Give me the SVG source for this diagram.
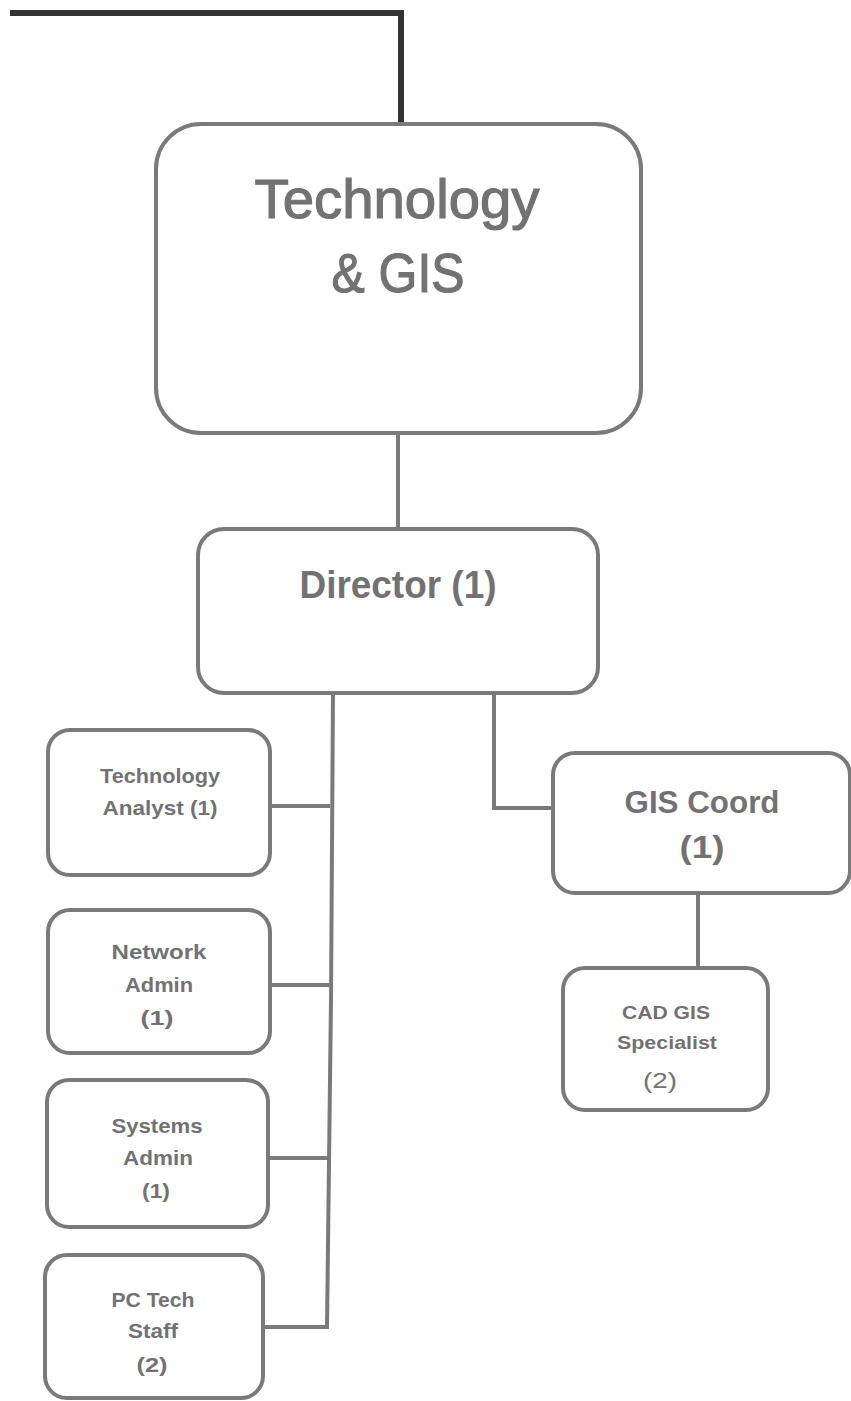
<svg xmlns="http://www.w3.org/2000/svg" width="851" height="1401" viewBox="0 0 851 1401">
<style>
.box{fill:#fff;stroke:#7a7a7a;stroke-width:4}
.ln{fill:none;stroke:#7a7a7a;stroke-width:4}
.t{font-family:"Liberation Sans",Arial,sans-serif;font-weight:bold;fill:#727272;text-anchor:middle}
.big{font-weight:normal;stroke:#727272;stroke-width:1.2}
</style>
<rect width="851" height="1401" fill="#fff"/>
<g id="connectors">
<polyline points="10,13 401,13 401,124" fill="none" stroke="#333" stroke-width="6"/>
<line class="ln" x1="398" y1="433" x2="398" y2="529"/>
<polyline class="ln" points="333,693 331,1000 327,1327 263,1327"/>
<line class="ln" x1="272" y1="806" x2="330" y2="806"/>
<line class="ln" x1="272" y1="985" x2="331" y2="985"/>
<line class="ln" x1="268" y1="1158" x2="328" y2="1158"/>
<polyline class="ln" points="494,693 494,808 553,808"/>
<line class="ln" x1="698" y1="893" x2="698" y2="968"/>
</g>
<g id="main">
<rect class="box" x="156" y="124" width="485" height="309" rx="45"/>
<text class="t big" x="397" y="218" font-size="56" textLength="285" lengthAdjust="spacingAndGlyphs">Technology</text>
<text class="t big" x="398" y="292" font-size="56" textLength="133" lengthAdjust="spacingAndGlyphs">&amp; GIS</text>
</g>
<g id="director">
<rect class="box" x="198" y="529" width="400" height="164" rx="26"/>
<text class="t" x="398" y="598" font-size="38" textLength="197" lengthAdjust="spacingAndGlyphs">Director (1)</text>
</g>
<g id="tech-analyst">
<rect class="box" x="48" y="730" width="222" height="145" rx="22"/>
<text class="t" x="160" y="783" font-size="21" textLength="120" lengthAdjust="spacingAndGlyphs">Technology</text>
<text class="t" x="160" y="815" font-size="21" textLength="115" lengthAdjust="spacingAndGlyphs">Analyst (1)</text>
</g>
<g id="network-admin">
<rect class="box" x="48" y="910" width="222" height="143" rx="22"/>
<text class="t" x="159" y="959" font-size="21" textLength="95" lengthAdjust="spacingAndGlyphs">Network</text>
<text class="t" x="159" y="992" font-size="21" textLength="68" lengthAdjust="spacingAndGlyphs">Admin</text>
<text class="t" x="157" y="1025" font-size="21" textLength="33" lengthAdjust="spacingAndGlyphs">(1)</text>
</g>
<g id="systems-admin">
<rect class="box" x="47" y="1080" width="221" height="147" rx="22"/>
<text class="t" x="157" y="1133" font-size="21" textLength="91" lengthAdjust="spacingAndGlyphs">Systems</text>
<text class="t" x="158" y="1165" font-size="21" textLength="70" lengthAdjust="spacingAndGlyphs">Admin</text>
<text class="t" x="156" y="1198" font-size="21" textLength="28" lengthAdjust="spacingAndGlyphs">(1)</text>
</g>
<g id="pc-tech">
<rect class="box" x="45" y="1255" width="218" height="143" rx="22"/>
<text class="t" x="153" y="1307" font-size="21" textLength="83" lengthAdjust="spacingAndGlyphs">PC Tech</text>
<text class="t" x="153" y="1338" font-size="21" textLength="50" lengthAdjust="spacingAndGlyphs">Staff</text>
<text class="t" x="152" y="1372" font-size="21" textLength="31" lengthAdjust="spacingAndGlyphs">(2)</text>
</g>
<g id="gis-coord">
<rect class="box" x="553" y="753" width="297" height="140" rx="22"/>
<text class="t" x="702" y="813" font-size="32" textLength="155" lengthAdjust="spacingAndGlyphs">GIS Coord</text>
<text class="t" x="702" y="858" font-size="32" textLength="45" lengthAdjust="spacingAndGlyphs">(1)</text>
</g>
<g id="cad-gis">
<rect class="box" x="563" y="968" width="205" height="142" rx="22"/>
<text class="t" x="666" y="1019" font-size="19" textLength="88" lengthAdjust="spacingAndGlyphs">CAD GIS</text>
<text class="t" x="667" y="1049" font-size="19" textLength="100" lengthAdjust="spacingAndGlyphs">Specialist</text>
<text class="t" x="660" y="1088" font-size="22" textLength="34" lengthAdjust="spacingAndGlyphs" style="font-weight:normal">(2)</text>
</g>
</svg>
